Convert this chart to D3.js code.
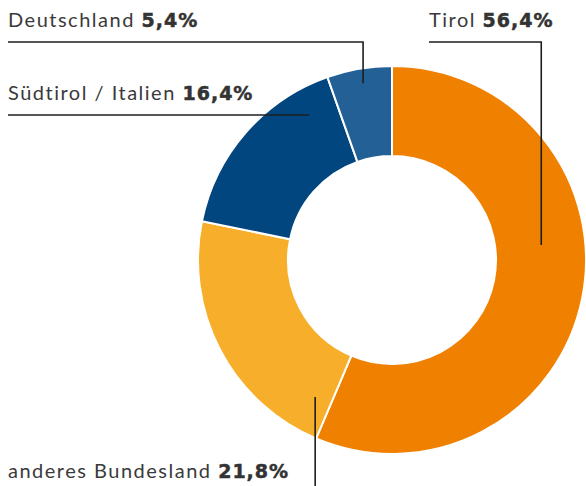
<!DOCTYPE html>
<html>
<head>
<meta charset="utf-8">
<script src="https://cdn.jsdelivr.net/npm/d3@7"></script>
<style>
  body { margin: 0; background: #fff; }
  text { font-family: Lato, "Open Sans", sans-serif; }
</style>
</head>
<body>
<svg id="chart" width="586" height="486"></svg>
<script>
// data
let regions = ['Tirol', 'anderes Bundesland', 'Südtirol / Italien', 'Deutschland']
let shares = [56.4, 21.8, 16.4, 5.4]
let shareLabels = ['56,4%', '21,8%', '16,4%', '5,4%']
let colors = ['#f08100', '#f7ae2a', '#02467f', '#236096']

let width = 586, height = 486
let cx = 392, cy = 260
let outerR = 194, innerR = 104

let svg = d3.select('#chart')

let pie = d3.pie().sort(null).value(d => d.value)
let arc = d3.arc().innerRadius(innerR).outerRadius(outerR)

let pieData = pie(regions.map((r, i) => ({ name: r, value: shares[i], label: shareLabels[i], color: colors[i] })))

let g = svg.append('g').attr('transform', 'translate(' + cx + ',' + cy + ')')

g.selectAll('path')
  .data(pieData)
  .enter()
  .append('path')
  .attr('d', arc)
  .attr('fill', d => d.data.color)
  .attr('stroke', '#fff')
  .attr('stroke-width', 2)

// label layout: text position, leader elbow y, and anchor on the ring (polar, deg clockwise from top)
let labelLayout = [
  { tx: 429, ty: 27, lineY: 42, lineX0: 429, anchorAngle: 84.3, anchorR: 150, kind: 'elbow' },
  { tx: 8, ty: 478, anchorAngle: 209.3, anchorR: 157, kind: 'down' },
  { tx: 8, ty: 100, lineY: 115, lineX0: 8, anchorAngle: -29.8, anchorR: 167, kind: 'flat' },
  { tx: 8, ty: 27, lineY: 42, lineX0: 8, anchorAngle: -9.3, anchorR: 179, kind: 'elbow' }
]

function polar(angle, r) {
  let a = angle * Math.PI / 180
  return [cx + Math.sin(a) * r, cy - Math.cos(a) * r]
}

pieData.forEach((d, i) => {
  let L = labelLayout[i]
  let p = polar(L.anchorAngle, L.anchorR)
  let pts
  if (L.kind === 'elbow') pts = [[L.lineX0, L.lineY], [p[0], L.lineY], p]
  else if (L.kind === 'flat') pts = [[L.lineX0, L.lineY], [p[0], L.lineY]]
  else pts = [p, [p[0], height]]

  svg.append('path')
    .attr('d', d3.line()(pts))
    .attr('fill', 'none')
    .attr('stroke', '#1e1e1e')
    .attr('stroke-width', 1.6)

  let t = svg.append('text')
    .attr('x', L.tx)
    .attr('y', L.ty)
    .attr('font-size', 20)
    .attr('fill', '#3a3a3a')
    .attr('letter-spacing', 1.5)
  t.append('tspan').text(d.data.name + ' ')
  t.append('tspan')
    .attr('font-family', '"DejaVu Sans", sans-serif')
    .attr('font-weight', 'bold')
    .attr('font-size', 19)
    .attr('fill', '#333')
    .attr('stroke', '#333')
    .attr('stroke-width', 0.5)
    .attr('letter-spacing', 1)
    .text(d.data.label)
})
</script>
</body>
</html>
